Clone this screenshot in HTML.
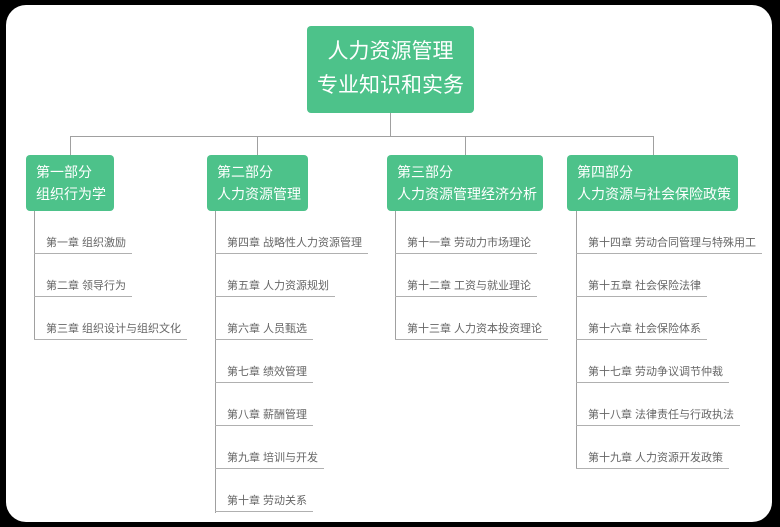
<!DOCTYPE html>
<html><head><meta charset="utf-8"><style>
html,body{margin:0;padding:0;background:#000;width:780px;height:527px;overflow:hidden}
.frame{position:absolute;left:6px;top:5px;width:766px;height:517px;background:#fff;border-radius:20px}
.root{position:absolute;left:307px;top:26px;width:167px;height:87px;background:#4dc28a;border-radius:4px;color:#fff;font:21px/34px "Liberation Sans","Noto Sans CJK SC",sans-serif;text-align:center;padding-top:9px;box-sizing:border-box}
.part{position:absolute;top:155px;height:56px;background:#4dc28a;border-radius:4px;color:#fff;font:14px/22px "Liberation Sans","Noto Sans CJK SC",sans-serif;padding:6px 0 0 10px;box-sizing:border-box;white-space:nowrap}
.l{position:absolute;background:#a0a0a0}
.ch{position:absolute;height:19px;border-bottom:1px solid #b0b0b0;padding:0 6px 0 12px;font:11px/19px "Liberation Sans","Noto Sans CJK SC",sans-serif;color:#666;white-space:nowrap}
</style></head><body>
<div class="frame"></div>
<div class="root">人力资源管理<br>专业知识和实务</div>
<div class="l" style="left:390px;top:113px;width:1px;height:23px"></div>
<div class="l" style="left:70px;top:136px;width:584px;height:1px"></div>
<div class="l" style="left:70px;top:136px;width:1px;height:19px"></div>
<div class="l" style="left:257px;top:136px;width:1px;height:19px"></div>
<div class="l" style="left:465px;top:136px;width:1px;height:19px"></div>
<div class="l" style="left:653px;top:136px;width:1px;height:19px"></div>
<div class="part" style="left:26px;width:88px">第一部分<br>组织行为学</div>
<div class="part" style="left:207px;width:101px">第二部分<br>人力资源管理</div>
<div class="part" style="left:387px;width:156px">第三部分<br>人力资源管理经济分析</div>
<div class="part" style="left:567px;width:171px">第四部分<br>人力资源与社会保险政策</div>
<div class="l" style="left:34px;top:211px;width:1px;height:129px"></div>
<div class="l" style="left:215px;top:211px;width:1px;height:302px"></div>
<div class="l" style="left:395px;top:211px;width:1px;height:129px"></div>
<div class="l" style="left:576px;top:211px;width:1px;height:258px"></div>

<div class="ch" style="left:34px;top:234px">第一章 组织激励</div>
<div class="ch" style="left:34px;top:277px">第二章 领导行为</div>
<div class="ch" style="left:34px;top:320px">第三章 组织设计与组织文化</div>

<div class="ch" style="left:215px;top:234px">第四章 战略性人力资源管理</div>
<div class="ch" style="left:215px;top:277px">第五章 人力资源规划</div>
<div class="ch" style="left:215px;top:320px">第六章 人员甄选</div>
<div class="ch" style="left:215px;top:363px">第七章 绩效管理</div>
<div class="ch" style="left:215px;top:406px">第八章 薪酬管理</div>
<div class="ch" style="left:215px;top:449px">第九章 培训与开发</div>
<div class="ch" style="left:215px;top:492px">第十章 劳动关系</div>

<div class="ch" style="left:395px;top:234px">第十一章 劳动力市场理论</div>
<div class="ch" style="left:395px;top:277px">第十二章 工资与就业理论</div>
<div class="ch" style="left:395px;top:320px">第十三章 人力资本投资理论</div>

<div class="ch" style="left:576px;top:234px">第十四章 劳动合同管理与特殊用工</div>
<div class="ch" style="left:576px;top:277px">第十五章 社会保险法律</div>
<div class="ch" style="left:576px;top:320px">第十六章 社会保险体系</div>
<div class="ch" style="left:576px;top:363px">第十七章 劳动争议调节仲裁</div>
<div class="ch" style="left:576px;top:406px">第十八章 法律责任与行政执法</div>
<div class="ch" style="left:576px;top:449px">第十九章 人力资源开发政策</div>
</body></html>
